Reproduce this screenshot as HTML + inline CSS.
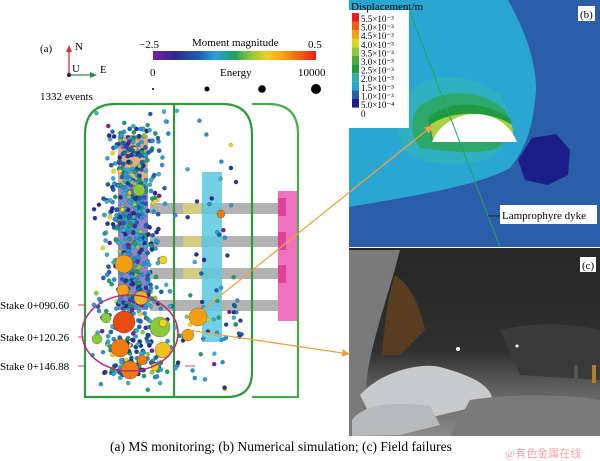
<!DOCTYPE html>
<html><head><meta charset="utf-8"><style>
html,body{margin:0;padding:0;background:#fff;}
svg{display:block}
text{font-family:"Liberation Serif",serif;}
</style></head><body>
<svg id="s" width="600" height="461" viewBox="0 0 600 461" xmlns="http://www.w3.org/2000/svg">
<defs>
<linearGradient id="cb" x1="0" x2="1">
<stop offset="0" stop-color="#7b1fa2"/><stop offset="0.14" stop-color="#2a2a8a"/><stop offset="0.28" stop-color="#1f5fb0"/><stop offset="0.38" stop-color="#2aa0d8"/><stop offset="0.5" stop-color="#1fa060"/><stop offset="0.6" stop-color="#8cc83a"/><stop offset="0.7" stop-color="#f0d020"/><stop offset="0.8" stop-color="#f5a010"/><stop offset="0.9" stop-color="#f06010"/><stop offset="1" stop-color="#ee1c1c"/>
</linearGradient>
<linearGradient id="ph" x1="0" y1="0" x2="0" y2="1">
<stop offset="0" stop-color="#262626"/><stop offset="0.55" stop-color="#303030"/><stop offset="0.72" stop-color="#5a5a5a"/><stop offset="1" stop-color="#8a8a8a"/>
</linearGradient>
<marker id="ar" markerWidth="8" markerHeight="8" refX="7" refY="4" orient="auto" markerUnits="userSpaceOnUse"><path d="M0,0 L8,4 L0,8z" fill="#f0a040"/></marker>
</defs>

<!-- Panel b -->
<rect x="349" y="0" width="251" height="247" fill="#2a5ea8"/>
<path d="M349,0 L508,0 C525,30 540,70 535,100 C532,130 525,150 510,168 C480,185 420,195 349,207 Z" fill="#29a6d2"/>
<path d="M405,95 C430,70 470,72 500,95 C515,115 510,150 490,158 C460,168 420,165 405,150 C395,130 395,110 405,95Z" fill="#2fb0c0"/>
<path d="M418,108 C440,88 480,88 505,110 C515,125 505,150 490,150 C470,155 440,150 420,148 C410,135 410,120 418,108Z" fill="#2ca86a"/>
<path d="M428,118 C450,100 480,100 510,118 L515,142 L432,142 Z" fill="#1f9a40"/>
<path d="M430,125 C450,110 490,110 512,125 L514,140 L433,140Z" fill="#a8d040"/>
<path d="M432,142 C440,122 460,114 475,114 C495,114 510,125 517,142 Z" fill="#fff"/>
<polygon points="532,138 556,134 570,150 568,175 548,185 525,180 518,160" fill="#1a1e86"/>
<line x1="410" y1="12" x2="500" y2="247" stroke="#2aa060" stroke-width="1"/>
<rect x="349" y="10" width="60" height="118" fill="#fff"/>
<text x="351" y="10" font-size="11">Displacement/m</text>
<g font-size="9">
<rect x="352" y="13" width="7" height="8.6" fill="#ee1c1c"/>
<rect x="352" y="21.6" width="7" height="8.6" fill="#f06010"/>
<rect x="352" y="30.2" width="7" height="8.6" fill="#f5a010"/>
<rect x="352" y="38.8" width="7" height="8.6" fill="#d8d820"/>
<rect x="352" y="47.4" width="7" height="8.6" fill="#8cc83a"/>
<rect x="352" y="56" width="7" height="8.6" fill="#4aaa40"/>
<rect x="352" y="64.6" width="7" height="8.6" fill="#1f9a40"/>
<rect x="352" y="73.2" width="7" height="8.6" fill="#2fb0a8"/>
<rect x="352" y="81.8" width="7" height="8.6" fill="#29a6d2"/>
<rect x="352" y="90.4" width="7" height="8.6" fill="#2a5ea8"/>
<rect x="352" y="99" width="7" height="8.6" fill="#1a1e86"/>
<text x="361" y="22">5.5×10⁻³</text><text x="361" y="30.6">5.0×10⁻³</text><text x="361" y="39.2">4.5×10⁻³</text><text x="361" y="47.8">4.0×10⁻³</text><text x="361" y="56.4">3.5×10⁻³</text><text x="361" y="65">3.0×10⁻³</text><text x="361" y="73.6">2.5×10⁻³</text><text x="361" y="82.2">2.0×10⁻³</text><text x="361" y="90.8">1.5×10⁻³</text><text x="361" y="99.4">1.0×10⁻³</text><text x="361" y="108">5.0×10⁻⁴</text><text x="361" y="117">0</text>
</g>
<rect x="578" y="6" width="17" height="15" fill="#fff"/><text x="580" y="18" font-size="11">(b)</text>
<line x1="488" y1="216" x2="500" y2="216" stroke="#222" stroke-width="1"/>
<rect x="500" y="205" width="97" height="19" fill="#fff"/><text x="502" y="219" font-size="11">Lamprophyre dyke</text>

<!-- Panel c -->
<rect x="349" y="248" width="251" height="188" fill="url(#ph)"/>
<path d="M349,250 L400,250 C390,290 375,330 368,370 L360,436 L349,436Z" fill="#7a7a7a"/>
<path d="M395,275 C410,285 420,305 425,330 L400,355 L382,355 C385,320 388,295 395,275Z" fill="#5a3e22"/>
<path d="M500,330 C540,320 580,325 600,330 L600,380 L520,375Z" fill="#3a3a3a"/>
<path d="M360,395 C380,372 420,362 440,367 C470,375 490,385 492,398 L470,408 L420,420 L375,425 Z" fill="#c8c9cb"/>
<path d="M352,420 C365,402 400,402 430,406 L440,425 L400,435 L352,436Z" fill="#b8b9bb"/>
<path d="M470,400 C520,392 580,396 600,400 L600,436 L450,436Z" fill="#7a7a7a"/>
<rect x="580" y="257" width="16" height="15" fill="#fff"/><text x="582" y="269" font-size="11">(c)</text>
<circle cx="458" cy="349" r="2" fill="#ffe"/><circle cx="517" cy="346" r="1.5" fill="#fff"/>
<rect x="574" y="365" width="4" height="20" fill="#555"/><rect x="592" y="365" width="4" height="18" fill="#b08030"/>

<!-- Panel a legend -->
<text x="40" y="52" font-size="11">(a)</text>
<line x1="69" y1="75" x2="69" y2="50" stroke="#c33" stroke-width="1.3"/><path d="M66,52 L69,45 L72,52z" fill="#c33"/>
<line x1="69" y1="75" x2="92" y2="75" stroke="#2a8a4a" stroke-width="1.3"/><path d="M90,72 L97,75 L90,78z" fill="#2a8a4a"/>
<circle cx="69" cy="75" r="2" fill="#223"/>
<text x="75" y="50" font-size="11">N</text><text x="72" y="72" font-size="11">U</text><text x="100" y="73" font-size="11">E</text>
<text x="139" y="48" font-size="11">−2.5</text><text x="192" y="46" font-size="11">Moment magnitude</text><text x="308" y="48" font-size="11">0.5</text>
<rect x="153" y="51" width="163" height="9" fill="url(#cb)"/>
<text x="150" y="76" font-size="11">0</text><text x="220" y="76" font-size="11">Energy</text><text x="298" y="76" font-size="11">10000</text>
<circle cx="153" cy="89" r="1" fill="#000"/><circle cx="207" cy="89" r="2.5" fill="#000"/><circle cx="262" cy="89" r="3.8" fill="#000"/><circle cx="316" cy="89" r="5" fill="#000"/>
<text x="40" y="100" font-size="11">1332 events</text>

<!-- structures -->
<rect x="118" y="135" width="30" height="50" fill="#d9a070" opacity="0.85"/>
<rect x="118" y="185" width="30" height="125" fill="#6a5ab8" opacity="0.75"/>
<g fill="#aaa" opacity="0.9">
<rect x="150" y="203" width="130" height="11"/><rect x="150" y="236" width="130" height="11"/><rect x="150" y="268" width="130" height="11"/><rect x="150" y="300" width="130" height="11"/>
</g>
<g fill="#e8e060" opacity="0.6"><rect x="183" y="203" width="18" height="11"/><rect x="183" y="236" width="18" height="11"/><rect x="183" y="268" width="18" height="11"/></g>
<rect x="202" y="172" width="20" height="170" fill="#5cc8e0" opacity="0.85"/>
<rect x="278" y="191" width="20" height="130" fill="#f070c0"/>
<rect x="278" y="198" width="8" height="18" fill="#e0409a"/><rect x="278" y="232" width="8" height="18" fill="#e0409a"/><rect x="278" y="265" width="8" height="18" fill="#e0409a"/>

<g fill="none" stroke="#2e9a3a" stroke-width="2.2">
<path d="M85,397 L85,135 Q85,104 116,104 L222,104 Q252,104 252,135 L252,372 Q252,397 227,397 Z"/>
<line x1="174" y1="104" x2="174" y2="397"/>
<path d="M252,104 L268,104 Q298,104 298,134 L298,397 L252,397" stroke="#4aaa4a"/>
</g>
<g id="dots"></g>
<ellipse cx="130" cy="333" rx="48" ry="38" fill="none" stroke="#c0287a" stroke-width="1.5"/>

<g font-size="11">
<text x="0" y="309">Stake 0+090.60</text><text x="0" y="341">Stake 0+120.26</text><text x="0" y="370">Stake 0+146.88</text>
</g>
<g stroke="#c05050" stroke-width="1"><line x1="78" y1="305" x2="84" y2="305"/><line x1="78" y1="337" x2="84" y2="337"/><line x1="78" y1="366" x2="84" y2="366"/><line x1="185" y1="366" x2="195" y2="366"/></g>

<line x1="200" y1="312" x2="432" y2="126" stroke="#f0a040" stroke-width="1.3" marker-end="url(#ar)"/>
<line x1="188" y1="330" x2="349" y2="354" stroke="#f0a040" stroke-width="1.3" marker-end="url(#ar)"/>

<text x="110" y="451" font-size="13.5">(a)  MS  monitoring; (b) Numerical simulation; (c) Field failures</text>
<text x="505" y="457" font-size="11" fill="#f4a0a8" font-family="'Noto Sans CJK SC',sans-serif">@有色金属在线</text>
</svg>
<script>
(function(){
var s=12345;function r(){s=(s*16807)%2147483647;return s/2147483647;}
function g(){return (r()+r()+r()-1.5)/1.5;}
var cols=["#1f5fb0","#2a8fd0","#2aa0d8","#1f3a9a","#1fa060","#2a2a8a","#3ab0c8","#7b1fa2","#8cc83a","#f0d020"];
var w=[5,5,4,3,3,2,3,1,1,1];var tw=0;w.forEach(function(x){tw+=x});
function pc(){var t=r()*tw;for(var i=0;i<w.length;i++){t-=w[i];if(t<0)return cols[i];}return cols[0];}
var G=document.getElementById("dots"),h="";
function c(x,y,rr,col,sw){h+='<circle cx="'+x.toFixed(1)+'" cy="'+y.toFixed(1)+'" r="'+rr+'" fill="'+col+'" stroke="rgba(0,0,0,'+(sw||0.25)+')" stroke-width="0.5"/>';}
for(var i=0;i<620;i++){var y=128+r()*250,x=133+g()*38*(y>290?1.3:1);c(x,y,2.2,pc());}
for(var i=0;i<110;i++){c(90+r()*150,110+r()*280,2.1,pc());}
for(var i=0;i<30;i++){c(185+r()*60,300+r()*40,2,pc());}
var big=[[124,264,9,"#f5a010"],[124,322,11,"#e84a10"],[160,327,10,"#8cc83a"],[123,290,6,"#f5a010"],[141,298,7,"#f0b020"],[120,348,9,"#f07a10"],[130,370,9,"#f07a10"],[163,350,8,"#f0c020"],[139,190,6,"#8cc83a"],[163,323,4,"#f0d020"],[198,317,9,"#f5a010"],[188,335,6,"#f5a010"],[221,214,4,"#f07a10"],[163,260,4,"#f0d020"],[97,339,5,"#8cc83a"],[106,318,5,"#8cc83a"],[142,360,5,"#f07a10"],[155,367,4,"#f0d020"]];
big.forEach(function(b){c(b[0],b[1],b[2],b[3],0.45);});
G.innerHTML=h;
})();
</script>
</body></html>
